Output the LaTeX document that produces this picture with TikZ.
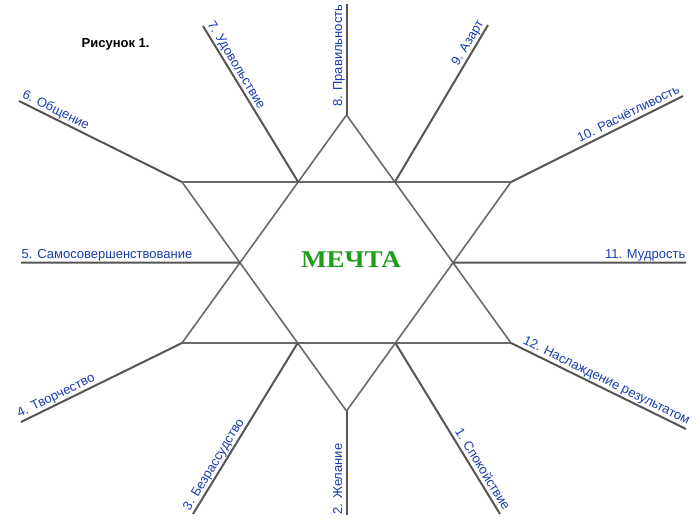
\documentclass[tikz,border=0pt]{standalone}
\usepackage{fontspec}
\setmainfont{Liberation Sans}
\newfontfamily\dreamfont{Liberation Serif}
\definecolor{labblue}{RGB}{25,60,175}
\definecolor{raygray}{RGB}{85,85,85}
\definecolor{stargray}{RGB}{105,105,105}
\definecolor{dreamgreen}{RGB}{30,155,25}
\tikzset{
  ray/.style={draw=raygray, line width=2pt},
  starline/.style={draw=stargray, line width=1.6pt, line join=miter},
  lab/.style={text=labblue, font=\fontsize{13}{15}\selectfont, inner xsep=0.5pt, inner ysep=1.2pt, text depth=3pt},
}
\begin{document}
\begin{tikzpicture}[x=1pt, y=-1pt]
\useasboundingbox (0,0) rectangle (700,530);
% star vertices
\coordinate (T) at (346.5,115);
\coordinate (B) at (346.5,411);
\coordinate (UL) at (182,182);
\coordinate (UR) at (511,182);
\coordinate (LL) at (182,343);
\coordinate (LR) at (511,343);
% intersections
\coordinate (I7) at (intersection of T--LL and UL--UR);
\coordinate (I9) at (intersection of T--LR and UL--UR);
\coordinate (I5) at (intersection of T--LL and UL--B);
\coordinate (I11) at (intersection of T--LR and UR--B);
\coordinate (I3) at (intersection of LL--LR and UL--B);
\coordinate (I1) at (intersection of LL--LR and UR--B);
% ray ends
\coordinate (E8) at (346.5,4);
\coordinate (E7) at (203,26);
\coordinate (E6) at (19,101);
\coordinate (E5) at (21,262.5);
\coordinate (E4) at (21,422);
\coordinate (E3) at (193,514);
\coordinate (E2) at (346.5,515);
\coordinate (E1) at (500,514);
\coordinate (E12) at (686,429);
\coordinate (E11) at (686,262.5);
\coordinate (E10) at (683,96);
\coordinate (E9) at (488,25);
% star
\draw[starline] (T) -- (LL) -- (LR) -- cycle;
\draw[starline] (B) -- (UL) -- (UR) -- cycle;
% rays
\draw[ray] (T) -- (E8);
\draw[ray] (I7) -- (E7);
\draw[ray] (UL) -- (E6);
\draw[ray] (I5) -- (E5);
\draw[ray] (LL) -- (E4);
\draw[ray] (I3) -- (E3);
\draw[ray] (B) -- (E2);
\draw[ray] (I1) -- (E1);
\draw[ray] (LR) -- (E12);
\draw[ray] (I11) -- (E11);
\draw[ray] (UR) -- (E10);
\draw[ray] (I9) -- (E9);
% labels
\node[lab, anchor=south east, rotate=90] (L8) at (E8) {8. Правильность};
\node[lab, anchor=south west, rotate=-58.7] (L7) at (E7) {7. Удовольствие};
\node[lab, anchor=south west, rotate=-26.4] (L6) at (E6) {6. Общение};
\node[lab, anchor=south west] (L5) at (E5) {5. Самосовершенствование};
\node[lab, anchor=south west, rotate=26.1] (L4) at (E4) {4. Творчество};
\node[lab, anchor=south west, rotate=58.5] (L3) at (E3) {3. Безрассудство};
\node[lab, anchor=south west, rotate=90] (L2) at (E2) {2. Желание};
\node[lab, anchor=south east, rotate=-58.5] (L1) at (E1) {1. Спокойствие};
\node[lab, anchor=south east, rotate=-26.2] (L12) at (E12) {12. Наслаждение результатом};
\node[lab, anchor=south east] (L11) at (E11) {11. Мудрость};
\node[lab, anchor=south east, rotate=26.6] (L10) at (E10) {10. Расчётливость};
\node[lab, anchor=south east, rotate=59.4] (L9) at (E9) {9. Азарт};
% titles
\node[anchor=base west, inner sep=0pt, font=\fontsize{13}{15}\selectfont\bfseries] (title) at (81.5,47) {Рисунок 1.};
\node[text=dreamgreen, inner sep=0pt, xscale=1.13, font=\dreamfont\fontsize{24}{26}\selectfont\bfseries] (dream) at (351,260) {МЕЧТА};
\end{tikzpicture}
\end{document}
